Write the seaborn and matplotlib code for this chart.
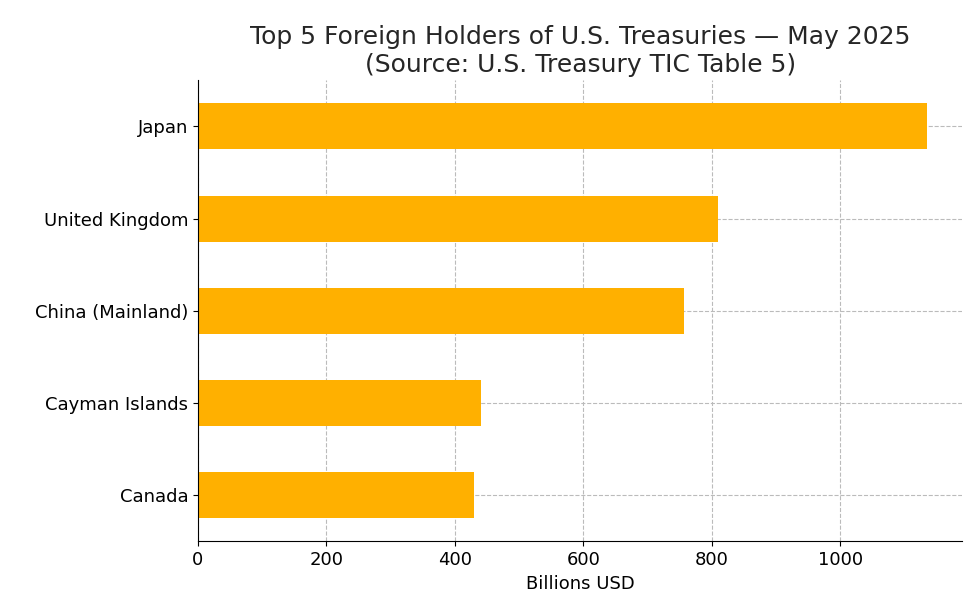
import matplotlib
matplotlib.use("Agg")
import matplotlib.pyplot as plt
import seaborn as sns
import pandas as pd

countries = ["Japan", "United Kingdom", "China (Mainland)", "Cayman Islands", "Canada"]
holdings = [1135, 809, 756, 441, 429]

df = pd.DataFrame({"Country": countries, "Holdings": holdings})

fig = plt.figure(figsize=(9.8, 6.13), dpi=100)
ax = fig.add_axes([0.202, 0.117, 0.780, 0.752])
sns.barplot(data=df, x="Holdings", y="Country", color="#FFB000", saturation=1,
            width=0.5, ax=ax, orient="h")
ax.set_xlim(0, 1190)
ax.set_ylim(4.5, -0.5)
ax.grid(True, linestyle="--", color="#bbbbbb", linewidth=0.8)
ax.set_axisbelow(True)
for s in ["top", "right"]:
    ax.spines[s].set_visible(False)
ax.set_xlabel("Billions USD", fontsize=13)
ax.set_ylabel("")
ax.tick_params(labelsize=13)
ax.set_title("Top 5 Foreign Holders of U.S. Treasuries — May 2025\n(Source: U.S. Treasury TIC Table 5)",
             fontsize=18, color="#262626")
fig.savefig("out.png", dpi=100)
